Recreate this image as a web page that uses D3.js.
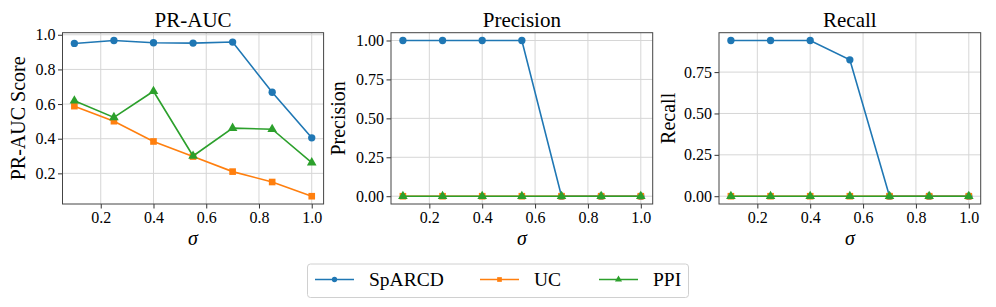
<!DOCTYPE html>
<html>
<head>
<meta charset="utf-8">
<script src="https://cdn.jsdelivr.net/npm/d3@7"></script>
<style>
  body { margin: 0; background: #fff; }
  text { font-family: "Liberation Serif", "Times New Roman", serif; fill: #000; }
</style>
</head>
<body>
<div id="chart"></div>
<script>
// sigma values shared by all panels
const sigma = [0.1, 0.25, 0.4, 0.55, 0.7, 0.85, 1.0];
const xTicks = [0.2, 0.4, 0.6, 0.8, 1.0];

const seriesNames = ["SpARCD", "UC", "PPI"];
const colors = ["#1f77b4", "#ff7f0e", "#2ca02c"];
const markers = ["circle", "square", "triangle"];

// PR-AUC
const prSpARCD = [0.950, 0.967, 0.954, 0.952, 0.958, 0.668, 0.405];
const prUC     = [0.588, 0.501, 0.384, 0.297, 0.210, 0.150, 0.068];
const prPPI    = [0.619, 0.523, 0.674, 0.300, 0.461, 0.455, 0.262];
const prTicks  = [0.2, 0.4, 0.6, 0.8, 1.0];

// Precision
const precSpARCD = [1, 1, 1, 1, 0, 0, 0];
const precUC     = [0, 0, 0, 0, 0, 0, 0];
const precPPI    = [0, 0, 0, 0, 0, 0, 0];
const precTicks  = [0, 0.25, 0.5, 0.75, 1.0];

// Recall
const recSpARCD = [0.941, 0.941, 0.941, 0.824, 0, 0, 0];
const recUC     = [0, 0, 0, 0, 0, 0, 0];
const recPPI    = [0, 0, 0, 0, 0, 0, 0];
const recTicks  = [0, 0.25, 0.5, 0.75];

const W = 996, H = 307;
const svg = d3.select("#chart").append("svg")
    .attr("width", W).attr("height", H);

const plotTop = 32.7, plotBottom = 204;

const symbolFor = (m, size) => {
    const type = m === "circle" ? d3.symbolCircle : m === "square" ? d3.symbolSquare : d3.symbolTriangle;
    return d3.symbol().type(type).size(size)();
};

const drawPanel = (left, right, title, ylabel, series, yTicks, yFmt, ylabelX) => {
    const x = d3.scaleLinear().domain([0.055, 1.045]).range([left, right]);
    const all = series.flat();
    const lo = d3.min(all), hi = d3.max(all), pad = (hi - lo) * 0.05;
    const y = d3.scaleLinear().domain([lo - pad, hi + pad]).range([plotBottom, plotTop]);

    const g = svg.append("g");

    // grid
    g.selectAll(".gx").data(xTicks).join("line")
        .attr("x1", d => x(d)).attr("x2", d => x(d))
        .attr("y1", plotTop).attr("y2", plotBottom)
        .attr("stroke", "#d6d6d6").attr("stroke-width", 1);
    g.selectAll(".gy").data(yTicks).join("line")
        .attr("x1", left).attr("x2", right)
        .attr("y1", d => y(d)).attr("y2", d => y(d))
        .attr("stroke", "#d6d6d6").attr("stroke-width", 1);

    // axes
    const xAxis = g.append("g")
        .attr("transform", `translate(0,${plotBottom})`)
        .call(d3.axisBottom(x).tickValues(xTicks).tickFormat(d3.format(".1f")).tickSize(4.5).tickPadding(3));
    const yAxis = g.append("g")
        .attr("transform", `translate(${left},0)`)
        .call(d3.axisLeft(y).tickValues(yTicks).tickFormat(yFmt).tickSize(4.5).tickPadding(2.5));
    [xAxis, yAxis].forEach(a => {
        a.attr("font-family", "Liberation Serif").attr("font-size", 16);
        a.select(".domain").remove();
        a.selectAll(".tick line").attr("stroke", "#333").attr("stroke-width", 1);
        a.selectAll(".tick text").style("font-family", "Liberation Serif").style("font-size", "16px").attr("fill", "#000");
    });

    // lines and markers
    series.forEach((vals, i) => {
        const pts = sigma.map((s, j) => [s, vals[j]]);
        g.append("path").datum(pts)
            .attr("fill", "none").attr("stroke", colors[i]).attr("stroke-width", 1.6)
            .attr("d", d3.line().x(d => x(d[0])).y(d => y(d[1])));
        g.selectAll(".m" + i).data(pts).join("path")
            .attr("transform", d => `translate(${x(d[0])},${y(d[1])})`)
            .attr("d", symbolFor(markers[i], markers[i] === "circle" ? 42 : markers[i] === "square" ? 44 : 40))
            .attr("fill", colors[i]);
    });

    // frame
    g.append("rect")
        .attr("x", left).attr("y", plotTop)
        .attr("width", right - left).attr("height", plotBottom - plotTop)
        .attr("fill", "none").attr("stroke", "#444").attr("stroke-width", 1);

    // texts
    g.append("text").attr("x", (left + right) / 2).attr("y", 26.5)
        .attr("text-anchor", "middle").style("font-size", "21px").text(title);
    g.append("text").attr("x", (left + right) / 2).attr("y", 245)
        .attr("text-anchor", "middle").style("font-size", "20px").style("font-style", "italic").text("σ");
    g.append("text")
        .attr("transform", `translate(${ylabelX},${(plotTop + plotBottom) / 2}) rotate(-90)`)
        .attr("text-anchor", "middle").style("font-size", "20px").text(ylabel);
};

drawPanel(62.5, 323.6, "PR-AUC", "PR-AUC Score", [prSpARCD, prUC, prPPI], prTicks, d3.format(".1f"), 25);
drawPanel(391, 652.7, "Precision", "Precision", [precSpARCD, precUC, precPPI], precTicks, d3.format(".2f"), 345);
drawPanel(719, 980.7, "Recall", "Recall", [recSpARCD, recUC, recPPI], recTicks, d3.format(".2f"), 675);

// legend
const lg = svg.append("g");
lg.append("rect").attr("x", 307.5).attr("y", 264).attr("width", 381).attr("height", 33.5)
    .attr("rx", 3).attr("fill", "#fff").attr("stroke", "#d0d0d0").attr("stroke-width", 1);
const legendX = [315, 480, 599];
seriesNames.forEach((name, i) => {
    const cx = legendX[i], cy = 279.5;
    lg.append("line").attr("x1", cx).attr("x2", cx + 39).attr("y1", cy).attr("y2", cy)
        .attr("stroke", colors[i]).attr("stroke-width", 1.6);
    lg.append("path").attr("transform", `translate(${cx + 19.5},${cy})`)
        .attr("d", symbolFor(markers[i], 22)).attr("fill", colors[i]);
    lg.append("text").attr("x", cx + 54).attr("y", cy + 6.5)
        .style("font-size", "19.5px").text(name);
});
</script>
</body>
</html>
